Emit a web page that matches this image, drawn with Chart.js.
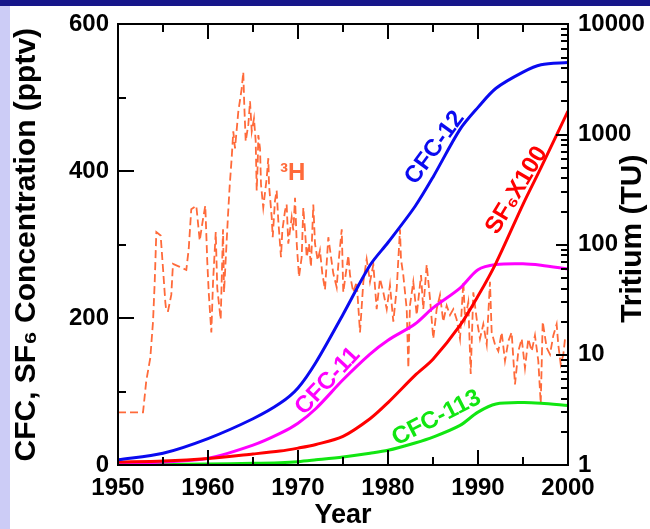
<!DOCTYPE html>
<html><head><meta charset="utf-8">
<script src="https://cdn.jsdelivr.net/npm/chart.js@4/dist/chart.umd.min.js"></script>
<style>
html,body{margin:0;padding:0;background:#fff;}
#wrap{position:relative;width:650px;height:529px;overflow:hidden;background:#fff;}
#topbar{position:absolute;left:0;top:0;width:650px;height:6px;background:#16168a;}
#leftbar{position:absolute;left:0;top:6px;width:10px;height:523px;background:#ccccf6;}
canvas{position:absolute;left:0;top:0;z-index:1;}
.tk{position:absolute;background:#000;z-index:2;}
</style></head><body>
<div id="wrap"><div id="topbar"></div><div id="leftbar"></div><canvas id="c" width="650" height="529"></canvas></div>
<script>
// ---- data ----
const cfcYears = [1950,1955,1960,1965,1968,1970,1972,1975,1978,1980,1983,1985,1988,1990,1992,1995,1997,2000];
const cfc12  = [7,16,36,63,84,105,140,205,272,303,352,392,457,487,513,535,545,548];
const cfc11  = [1,4,9,27,43,57,77,116,151,170,192,214,241,266,273,274,272,267];
const cfc113 = [0.5,0.8,1.5,2.3,3.2,4.5,7,11,16,20,30,38,54,72,83,85,84,81];
const sf6x100 = [4,5.5,9,15,19,23,28,39,63,85,122,144,190,230,275,355,405,482];

const tritiumYears = [1950.00,1952.78,1953.14,1953.59,1953.89,1954.08,1954.26,1954.74,1955.00,1955.26,
1955.37,1955.56,1955.92,1956.11,1956.86,1957.59,1957.86,1958.14,1958.70,1959.08,
1959.44,1959.70,1959.92,1960.08,1960.37,1960.56,1960.86,1961.03,1961.41,1961.67,
1961.78,1962.03,1962.22,1962.41,1962.63,1962.81,1963.00,1963.37,1963.74,1963.92,
1964.03,1964.19,1964.48,1964.67,1964.86,1965.11,1965.30,1965.41,1965.52,1965.59,
1965.78,1965.89,1966.14,1966.52,1966.70,1966.78,1967.08,1967.19,1967.44,1967.63,
1967.81,1968.11,1968.26,1968.56,1968.74,1968.92,1969.30,1969.48,1969.67,1969.86,
1970.11,1970.41,1970.59,1970.78,1970.97,1971.22,1971.44,1971.70,1971.89,1972.19,
1972.44,1972.70,1973.00,1973.37,1973.67,1973.92,1974.30,1974.48,1974.86,1975.03,
1975.59,1975.78,1976.14,1976.52,1976.89,1977.26,1977.63,1978.00,1978.37,1978.74,
1979.11,1979.48,1979.86,1980.22,1980.59,1980.97,1981.33,1981.44,1981.70,1981.89,
1982.08,1982.26,1982.44,1982.81,1983.19,1983.67,1983.92,1984.30,1984.67,1985.03,
1985.41,1985.78,1986.14,1986.52,1986.89,1987.26,1987.63,1988.00,1988.37,1988.56,
1988.92,1989.19,1989.48,1989.86,1990.22,1990.59,1990.97,1991.33,1991.52,1991.89,
1992.26,1992.63,1993.00,1993.37,1993.74,1994.11,1994.48,1994.86,1995.22,1995.59,
1995.97,1996.33,1996.70,1996.97,1997.19,1997.63,1998.00,1998.37,1998.74,1998.92,
1999.19,1999.48,1999.67];
const tritiumTU = [3,3,5.8,9.4,20,46,130,121,61,30,
25,25,35,67,63,59,92,210,226,109,
170,226,70,37,16,46,130,40,21,138,
37,92,183,342,610,1070,750,1620,2600,3700,
1850,870,1230,2000,1070,1400,870,310,530,990,
750,350,217,400,610,350,177,117,250,310,
166,77,135,204,232,102,177,135,267,102,
51,77,217,135,77,102,63,232,102,72,
89,55,39,117,77,55,41,66,138,37,
80,53,37,46,16,46,74,46,66,26,
49,37,26,43,20,40,138,74,53,37,
26,7.6,28,46,23,53,26,66,32,14,
26,35,20,28,23,26,21,14,46,21,
30,6.7,37,21,14,19,12.4,46,16,12.4,
10.8,16,8.8,13.3,16,5.4,10.8,14,7.6,14,
10.8,15,8.8,3.6,20,11.6,10.1,15,19,12.4,
8.2,10.1,14];

const xTickYears = [1950,1960,1970,1980,1990,2000];
const leftTicks = [0,200,400,600];
const rightTicks = [1,10,100,1000,10000];

// text labels placed in data coordinates (year, pptv) with on-screen angle
const curveLabels = [
  {text:'CFC-12',  year:1985.2, val:432, angle:-54, color:'#0a0af0'},
  {text:'SF\u2086X100', year:1994.3, val:374, angle:-59, color:'#ff0000'},
  {text:'CFC-11',  year:1973.3, val:114, angle:-47, color:'#ff00ff'},
  {text:'CFC-113', year:1985.4, val:64,  angle:-27, color:'#11e611'},
  {text:'\u00b3H',  year:1969.4, val:397, angle:0,   color:'#ff6a3a'}
];

const FONT = "'Liberation Sans', Arial, Helvetica, sans-serif";
const pts = (xs, ys) => xs.map((x,i)=>({x:x, y:ys[i]}));

const decor = {
  id:'decor',
  afterDraw(chart){
    const ctx = chart.ctx;
    const x = chart.scales.x, y = chart.scales.y;
    const T0 = y.getPixelForValue(600), B0 = y.getPixelForValue(0);
    ctx.save();
    ctx.translate(633, (T0 + B0) / 2 - 6);
    ctx.rotate(-Math.PI / 2);
    ctx.fillStyle = '#000'; ctx.font = "bold 30px " + FONT;
    ctx.textAlign = 'center'; ctx.textBaseline = 'middle';
    ctx.fillText('Tritium (TU)', 0, 0);
    ctx.restore();
    curveLabels.forEach(l => {
      ctx.save();
      ctx.translate(x.getPixelForValue(l.year), y.getPixelForValue(l.val));
      ctx.rotate(l.angle * Math.PI / 180);
      ctx.fillStyle = l.color; ctx.font = "bold 24px " + FONT;
      ctx.textAlign = 'center'; ctx.textBaseline = 'middle';
      ctx.fillText(l.text, 0, 0);
      ctx.restore();
    });
  }
};

const chart = new Chart(document.getElementById('c'), {
  type:'line',
  data:{
    datasets:[
      {label:'CFC-12', data:pts(cfcYears,cfc12), borderColor:'#0a0af0', borderWidth:3, yAxisID:'y', tension:0.3},
      {label:'SF6x100', data:pts(cfcYears,sf6x100), borderColor:'#ff0000', borderWidth:3, yAxisID:'y', tension:0.3},
      {label:'CFC-11', data:pts(cfcYears,cfc11), borderColor:'#ff00ff', borderWidth:3, yAxisID:'y', tension:0.3},
      {label:'CFC-113', data:pts(cfcYears,cfc113), borderColor:'#11e611', borderWidth:3, yAxisID:'y', tension:0.3},
      {label:'Tritium', data:pts(tritiumYears,tritiumTU), borderColor:'#ff6a3a', borderWidth:1.8, borderDash:[8,4], yAxisID:'y2', tension:0}
    ]
  },
  options:{
    responsive:false, animation:false, devicePixelRatio:1,
    layout:{padding:{top:20,left:0,right:0,bottom:0}},
    elements:{point:{radius:0}},
    plugins:{legend:{display:false}, tooltip:{enabled:false}},
    scales:{
      x:{type:'linear', min:1950, max:2000, position:'bottom',
        grid:{display:false, drawTicks:false}, border:{display:false},
        afterBuildTicks: s => { s.ticks = xTickYears.map(v=>({value:v})); },
        ticks:{padding:9, color:'#000', autoSkip:false, maxRotation:0, font:{family:FONT,size:24,weight:'bold'}, callback:v=>String(v)},
        title:{display:true, text:'Year', color:'#000', font:{family:FONT,size:27,weight:'bold',lineHeight:1}, padding:{top:0,bottom:0}},
        afterFit: s => { s.height = 64; }
      },
      y:{type:'linear', min:0, max:600, position:'left',
        grid:{display:false, drawTicks:false}, border:{display:false},
        afterBuildTicks: s => { s.ticks = leftTicks.map(v=>({value:v})); },
        ticks:{padding:9, color:'#000', autoSkip:false, font:{family:FONT,size:24,weight:'bold'}},
        title:{display:true, text:'CFC, SF\u2086 Concentration (pptv)', color:'#000', font:{family:FONT,size:30,weight:'bold',lineHeight:1}, padding:{top:12,bottom:0}},
        afterFit: s => { s.width = 118; }
      },
      y2:{type:'logarithmic', min:1, max:10000, position:'right',
        grid:{display:false, drawTicks:false}, border:{display:false},
        afterBuildTicks: s => { s.ticks = rightTicks.map(v=>({value:v})); },
        ticks:{padding:10, color:'#000', autoSkip:false, font:{family:FONT,size:24,weight:'bold'}, callback:v=>String(v)},
        afterFit: s => { s.width = 82; }
      }
    }
  },
  plugins:[decor]
});

// frame and inward tick marks as overlay elements, positioned from the chart's own scales
(function(){
  const wrap = document.getElementById('wrap');
  const x = chart.scales.x, y = chart.scales.y, y2 = chart.scales.y2;
  const L0 = Math.round(x.getPixelForValue(1950));
  const R0 = Math.round(x.getPixelForValue(2000));
  const T0 = Math.round(y.getPixelForValue(600));
  const B0 = Math.round(y.getPixelForValue(0));
  function box(l, t, w, h){
    const d = document.createElement('div');
    d.className = 'tk';
    d.style.left = l + 'px'; d.style.top = t + 'px';
    d.style.width = w + 'px'; d.style.height = h + 'px';
    wrap.appendChild(d);
  }
  box(L0 - 1, T0 - 1, R0 - L0 + 2, 2);
  box(L0 - 1, B0 - 1, R0 - L0 + 2, 2);
  box(L0 - 1, T0 - 1, 2, B0 - T0 + 2);
  box(R0 - 1, T0 - 1, 2, B0 - T0 + 2);
  for (let yr = 1950; yr <= 2000; yr += 5) {
    const px = Math.round(x.getPixelForValue(yr)); const L = (yr % 10 === 0) ? 15 : 8;
    box(px - 1, B0 - L, 2, L);
    box(px - 1, T0, 2, L);
  }
  for (let v = 0; v <= 600; v += 100) {
    const py = Math.round(y.getPixelForValue(v)); const L = (v % 200 === 0) ? 16 : 8;
    box(L0, py - 1, L, 2);
  }
  for (let d = 1; d < 10000; d *= 10) {
    for (let m = 1; m < 10; m++) {
      const py = Math.round(y2.getPixelForValue(d * m)); const L = (m === 1) ? 12 : 7;
      box(R0 - L, py - 1, L, 2);
    }
  }
})();
</script>
</body></html>
